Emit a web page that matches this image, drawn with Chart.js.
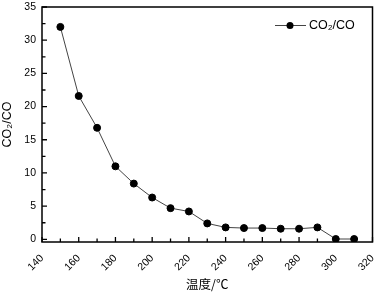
<!DOCTYPE html>
<html><head><meta charset="utf-8">
<script src="https://cdn.jsdelivr.net/npm/chart.js@4/dist/chart.umd.min.js"></script>
<style>html,body{margin:0;padding:0;background:#fff;}#wrap{width:377px;height:294px;}</style>
</head><body><div id="wrap"><canvas id="c" width="377" height="294"></canvas></div>
<script>
const temps = [150,160,170,180,190,200,210,220,230,240,250,260,270,280,290,300,310];
const ratio = [32.0,21.6,16.8,11.0,8.4,6.3,4.7,4.2,2.4,1.8,1.7,1.7,1.6,1.6,1.8,0.05,0.05];
const yTickValues = [0,5,10,15,20,25,30,35];
const xTickValues = [140,160,180,200,220,240,260,280,300,320];
const seriesLabel = 'CO\u2082/CO';
const xTitle = '温度/℃';
const yTitle = 'CO\u2082/CO';

const decor = {
  id:'decor',
  afterDraw(chart){
    const ctx = chart.ctx;
    const a = chart.chartArea;
    const sx = chart.scales.x, sy = chart.scales.y;
    ctx.save();
    ctx.strokeStyle = '#000';
    ctx.lineWidth = 1.5;
    ctx.strokeRect(a.left, a.top, a.right - a.left, a.bottom - a.top);
    ctx.beginPath();
    for (let i = 0; i < xTickValues.length; i++) {
      const px = sx.getPixelForValue(xTickValues[i]);
      ctx.moveTo(px, a.bottom); ctx.lineTo(px, a.bottom - 5);
      if (i < xTickValues.length - 1) {
        const m = sx.getPixelForValue((xTickValues[i] + xTickValues[i+1]) / 2);
        ctx.moveTo(m, a.bottom); ctx.lineTo(m, a.bottom - 3.5);
      }
    }
    for (let i = 0; i < yTickValues.length; i++) {
      const py = sy.getPixelForValue(yTickValues[i]);
      ctx.moveTo(a.left, py); ctx.lineTo(a.left + 5, py);
      if (i < yTickValues.length - 1) {
        const m = sy.getPixelForValue((yTickValues[i] + yTickValues[i+1]) / 2);
        ctx.moveTo(a.left, m); ctx.lineTo(a.left + 3.5, m);
      }
    }
    ctx.lineWidth = 1.3;
    ctx.stroke();
    // legend
    const lx = Math.round(a.right) - 98, ly = Math.round(a.top) + 18.5;
    ctx.strokeStyle = '#444'; ctx.lineWidth = 1;
    ctx.beginPath(); ctx.moveTo(lx, ly); ctx.lineTo(lx + 31, ly); ctx.stroke();
    ctx.fillStyle = '#000';
    ctx.beginPath(); ctx.arc(lx + 15, ly, 3.5, 0, Math.PI * 2); ctx.fill();
    ctx.font = '12.5px "Liberation Sans", Arial, sans-serif';
    ctx.textBaseline = 'middle';
    ctx.fillText(chart.data.datasets[0].label, lx + 34, ly + 0.5);
    ctx.restore();
  }
};

new Chart(document.getElementById('c'), {
  type:'line',
  data:{datasets:[{label:seriesLabel, data:temps.map((t,i)=>({x:t,y:ratio[i]})),
    borderColor:'#444', borderWidth:1, pointBackgroundColor:'#000', pointBorderColor:'#000',
    pointRadius:3.5, pointHoverRadius:3.5, tension:0, fill:false}]},
  options:{
    responsive:false, animation:false, devicePixelRatio:1,
    layout:{padding:{top:7,right:4,left:0,bottom:0}},
    plugins:{legend:{display:false}, tooltip:{enabled:false}},
    scales:{
      x:{type:'linear', position:'bottom', min:140, max:320,
        grid:{display:false, drawTicks:false}, border:{display:false},
        afterBuildTicks(s){s.ticks=xTickValues.map(v=>({value:v}));},
        ticks:{minRotation:45, maxRotation:45, padding:10, color:'#000',
          font:{family:'"Liberation Sans", Arial, sans-serif', size:10.5}},
        title:{display:true, text:xTitle, color:'#000', padding:{top:0,bottom:2},
          font:{family:'"Noto Sans CJK SC", serif', size:12.5}},
        afterFit(s){s.height=52; s.paddingLeft=0; s.paddingRight=0;}
      },
      y:{type:'linear', position:'left', min:-0.4, max:35,
        grid:{display:false, drawTicks:false}, border:{display:false},
        afterBuildTicks(s){s.ticks=yTickValues.map(v=>({value:v}));},
        ticks:{padding:6, color:'#000',
          font:{family:'"Liberation Sans", Arial, sans-serif', size:10.5}},
        title:{display:true, text:yTitle, color:'#000', padding:{top:0,bottom:0},
          font:{family:'"Liberation Sans", Arial, sans-serif', size:12.5}},
        afterFit(s){s.width=42; s.paddingTop=0; s.paddingBottom=0;}
      }
    }
  },
  plugins:[decor]
});
</script></body></html>
